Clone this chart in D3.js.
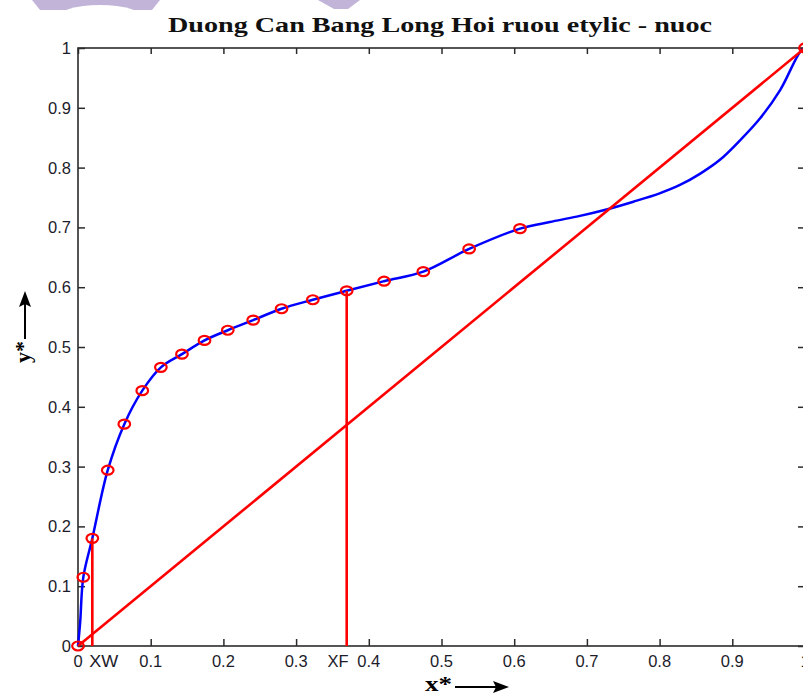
<!DOCTYPE html>
<html>
<head>
<meta charset="utf-8">
<script src="https://cdn.jsdelivr.net/npm/d3@7"></script>
<style>
  html, body { margin: 0; padding: 0; background: #fff; }
  svg { display: block; }
</style>
</head>
<body>
<script>
// ---- data ----
const titleText = "Duong Can Bang Long Hoi ruou etylic - nuoc";
const xTicks = [0, 0.1, 0.2, 0.3, 0.4, 0.5, 0.6, 0.7, 0.8, 0.9, 1];
const xTickLabels = ["0", "0.1", "0.2", "0.3", "0.4", "0.5", "0.6", "0.7", "0.8", "0.9", "1"];
const yTicks = [0, 0.1, 0.2, 0.3, 0.4, 0.5, 0.6, 0.7, 0.8, 0.9, 1];
const yTickLabels = ["0", "0.1", "0.2", "0.3", "0.4", "0.5", "0.6", "0.7", "0.8", "0.9", "1"];

// equilibrium data points (red circles)
const xData = [0, 0.0073, 0.0197, 0.0409, 0.0637, 0.0884, 0.114, 0.143, 0.174, 0.206, 0.241, 0.280, 0.323, 0.3696, 0.421, 0.475, 0.538, 0.608, 1];
const yData = [0, 0.115, 0.180, 0.294, 0.371, 0.427, 0.466, 0.488, 0.511, 0.528, 0.545, 0.564, 0.579, 0.594, 0.610, 0.626, 0.664, 0.698, 1];

// traced equilibrium curve (blue)
const curveX = [0, 0.003, 0.0073, 0.0197, 0.0409, 0.0637, 0.0884, 0.114, 0.143, 0.174, 0.206, 0.241, 0.280, 0.323, 0.3696, 0.421, 0.475, 0.538, 0.608, 0.649, 0.686, 0.727, 0.764, 0.800, 0.828, 0.856, 0.883, 0.911, 0.938, 0.966, 0.993, 1];
const curveY = [0, 0.040, 0.115, 0.180, 0.294, 0.371, 0.427, 0.466, 0.488, 0.511, 0.528, 0.545, 0.564, 0.579, 0.594, 0.610, 0.626, 0.664, 0.698, 0.709, 0.718, 0.730, 0.743, 0.757, 0.771, 0.790, 0.813, 0.846, 0.882, 0.930, 0.993, 1];

// diagonal y = x
const diagX = [0, 1];
const diagY = [0, 1];

// feed and bottom compositions
const xW = 0.0197, yW = 0.180;
const xF = 0.3696, yF = 0.594;
const markLabels = ["XW", "XF"];
const xAxisLabel = "x*";
const yAxisLabel = "y*";

// ---- layout ----
const W = 803, H = 693;
const svg = d3.select("body").append("svg").attr("width", W).attr("height", H);
svg.append("rect").attr("width", W).attr("height", H).attr("fill", "#fff");

// watermark fragments at top
const wm = "#c2b4d8";
svg.append("path").attr("fill", wm)
  .attr("d", "M32,0 L160,0 L152,10 L40,10 Z");
svg.append("ellipse").attr("fill", "#fff").attr("cx", 100).attr("cy", 19).attr("rx", 44).attr("ry", 14);
svg.append("path").attr("fill", wm)
  .attr("d", "M318,0 L360,0 L348,9 L334,9 Z");

const x = d3.scaleLinear().domain([0, 1]).range([78, 805]);
const y = d3.scaleLinear().domain([0, 1]).range([646, 48]);

const axisColor = "#2b2b2b";
const labelFont = "'Liberation Sans', Arial, sans-serif";

// title
svg.append("text")
  .attr("x", 440).attr("y", 32)
  .attr("text-anchor", "middle")
  .attr("font-family", "'Liberation Serif', 'Times New Roman', serif")
  .attr("font-weight", "bold")
  .attr("font-size", 21)
  .attr("textLength", 544)
  .attr("lengthAdjust", "spacingAndGlyphs")
  .attr("fill", "#111")
  .text(titleText);

// axes box
const g = svg.append("g");
g.append("rect")
  .attr("x", x(0)).attr("y", y(1))
  .attr("width", x(1) - x(0)).attr("height", y(0) - y(1))
  .attr("fill", "none").attr("stroke", axisColor).attr("stroke-width", 1.6);

// bottom axis with inward ticks
const xAxisB = d3.axisBottom(x).tickValues(xTicks).tickSize(-7).tickFormat(() => "");
g.append("g").attr("transform", `translate(0,${y(0)})`).call(xAxisB)
  .call(s => s.select(".domain").remove())
  .call(s => s.selectAll("line").attr("stroke", axisColor).attr("stroke-width", 1.5));
// top ticks
const xAxisT = d3.axisTop(x).tickValues(xTicks).tickSize(-6).tickFormat(() => "");
g.append("g").attr("transform", `translate(0,${y(1)})`).call(xAxisT)
  .call(s => s.select(".domain").remove())
  .call(s => s.selectAll("line").attr("stroke", axisColor).attr("stroke-width", 1.5));
// left ticks
const yAxisL = d3.axisLeft(y).tickValues(yTicks).tickSize(-7).tickFormat(() => "");
g.append("g").attr("transform", `translate(${x(0)},0)`).call(yAxisL)
  .call(s => s.select(".domain").remove())
  .call(s => s.selectAll("line").attr("stroke", axisColor).attr("stroke-width", 1.5));
// right ticks
const yAxisR = d3.axisRight(y).tickValues(yTicks).tickSize(-7).tickFormat(() => "");
g.append("g").attr("transform", `translate(${x(1)},0)`).call(yAxisR)
  .call(s => s.select(".domain").remove())
  .call(s => s.selectAll("line").attr("stroke", axisColor).attr("stroke-width", 1.5));

// tick labels
g.selectAll(".xtl").data(xTicks).enter().append("text")
  .attr("x", d => x(d)).attr("y", 667)
  .attr("text-anchor", "middle")
  .attr("font-family", labelFont).attr("font-size", 16.5).attr("fill", "#1c1c2a")
  .text((d, i) => xTickLabels[i]);
g.selectAll(".ytl").data(yTicks).enter().append("text")
  .attr("x", 71).attr("y", d => y(d) + 6)
  .attr("text-anchor", "end")
  .attr("font-family", labelFont).attr("font-size", 16.5).attr("fill", "#1c1c2a")
  .text((d, i) => yTickLabels[i]);

// XW / XF labels
g.append("text").attr("x", x(xW) - 3).attr("y", 667)
  .attr("font-family", labelFont).attr("font-size", 16.5).attr("fill", "#1c1c2a")
  .attr("textLength", 29).attr("lengthAdjust", "spacingAndGlyphs")
  .text(markLabels[0]);
g.append("text").attr("x", x(xF) + 2).attr("y", 667)
  .attr("text-anchor", "end")
  .attr("font-family", labelFont).attr("font-size", 16.5).attr("fill", "#1c1c2a")
  .text(markLabels[1]);

// axis labels with arrows
const serif = "'Liberation Serif', 'Times New Roman', serif";
svg.append("text").attr("x", 425).attr("y", 691)
  .attr("font-family", serif).attr("font-weight", "bold").attr("font-size", 22)
  .attr("textLength", 27).attr("lengthAdjust", "spacingAndGlyphs")
  .attr("fill", "#000").text(xAxisLabel);
svg.append("line").attr("x1", 455).attr("y1", 687).attr("x2", 496).attr("y2", 687)
  .attr("stroke", "#000").attr("stroke-width", 2);
svg.append("path").attr("d", "M509,687 L493,681 L496,687 L493,693 Z").attr("fill", "#000");

svg.append("text")
  .attr("transform", "translate(30,363) rotate(-90)")
  .attr("font-family", serif).attr("font-weight", "bold").attr("font-size", 22)
  .attr("fill", "#000").text(yAxisLabel);
svg.append("line").attr("x1", 25).attr("y1", 339).attr("x2", 25).attr("y2", 304)
  .attr("stroke", "#000").attr("stroke-width", 2);
svg.append("path").attr("d", "M25,291 L19,307 L25,304 L31,307 Z").attr("fill", "#000");

// equilibrium curve
const curvePts = curveX.map((v, i) => [v, curveY[i]]);
const line = d3.line().x(d => x(d[0])).y(d => y(d[1])).curve(d3.curveCatmullRom.alpha(0.5));
svg.append("path").datum(curvePts).attr("d", line)
  .attr("fill", "none").attr("stroke", "#0000ff").attr("stroke-width", 2.5);

// diagonal
const diagPts = diagX.map((v, i) => [v, diagY[i]]);
svg.append("path").datum(diagPts).attr("d", d3.line().x(d => x(d[0])).y(d => y(d[1])))
  .attr("fill", "none").attr("stroke", "#ff0000").attr("stroke-width", 2.6);

// verticals at XW and XF
[[xW, yW], [xF, yF]].forEach(([xv, yv]) => {
  svg.append("line").attr("x1", x(xv)).attr("x2", x(xv)).attr("y1", y(0)).attr("y2", y(yv))
    .attr("stroke", "#ff0000").attr("stroke-width", 2.6);
});

// markers
svg.selectAll(".mk").data(xData).enter().append("ellipse")
  .attr("cx", d => x(d)).attr("cy", (d, i) => y(yData[i]))
  .attr("rx", 5.8).attr("ry", 4.5)
  .attr("fill", "none").attr("stroke", "#ff0000").attr("stroke-width", 2.2);
</script>
</body>
</html>
